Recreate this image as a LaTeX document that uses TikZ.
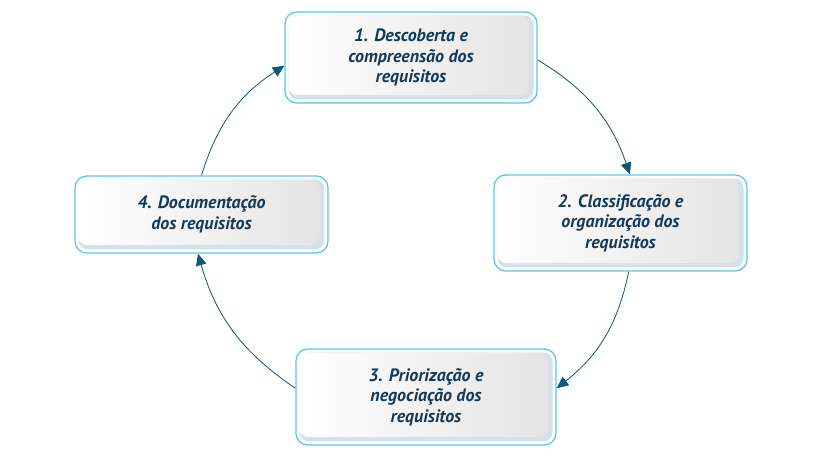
\documentclass[tikz,border=0pt]{standalone}
\usepackage{fontspec}
\setmainfont{PT Sans}
\usetikzlibrary{arrows.meta,shapes,calc}
\definecolor{boxline}{HTML}{5BC6EA}
\definecolor{boxshadow}{HTML}{D2E1EC}
\definecolor{boxgray}{HTML}{E4E4E5}
\definecolor{textblue}{HTML}{133957}
\definecolor{arrowblue}{HTML}{0E5878}

\begin{document}
\begin{tikzpicture}[x=0.03cm,y=-0.03cm,
	etapa/.style={draw=boxline, line width=1.1pt, rounded corners=10pt, fill=white, align=center, text=textblue, inner sep=0pt,
		font=\fontsize{15.3}{17.6}\selectfont\bfseries\itshape,
		path picture={
			\fill[boxshadow,rounded corners=8pt] ($(path picture bounding box.north west)+(3pt,-3pt)$) rectangle ($(path picture bounding box.south east)+(-3pt,3pt)$);
			\shade[left color=white, right color=boxgray, rounded corners=7pt] ($(path picture bounding box.north west)+(3pt,-3pt)$) rectangle ($(path picture bounding box.south east)+(-7pt,7pt)$);
		}},
	seta/.style={-{Triangle[length=10pt,width=9pt,fill=arrowblue]}, draw=arrowblue, line width=0.7pt, bend left=20}]
	\useasboundingbox (0,0) rectangle (822,467);
	
	\node[etapa, minimum width=7.56cm, minimum height=2.73cm] (b1) at (411,57.5) {1. Descoberta e\\compreensão dos\\requisitos};
	\node[etapa, minimum width=7.59cm, minimum height=2.88cm] (b2) at (620.5,223) {2. Classificação e\\organização dos\\requisitos};
	\node[etapa, minimum width=7.8cm, minimum height=2.88cm] (b3) at (426,397) {3. Priorização e\\negociação dos\\requisitos};
	\node[etapa, minimum width=7.59cm, minimum height=2.31cm] (b4) at (201.5,214.5) {4. Documentação\\dos requisitos};
	
	\draw[seta] ([yshift=-2pt]b1.east) to ([xshift=8pt]b2.north);
	\draw[seta] ([xshift=7pt]b2.south) to ([yshift=7.5pt]b3.east);
	\draw[seta] ([yshift=7.5pt]b3.west) to ([xshift=-3pt]b4.south);
	\draw[seta] (b4.north) to ([yshift=-7pt]b1.west);
\end{tikzpicture}
\end{document}
